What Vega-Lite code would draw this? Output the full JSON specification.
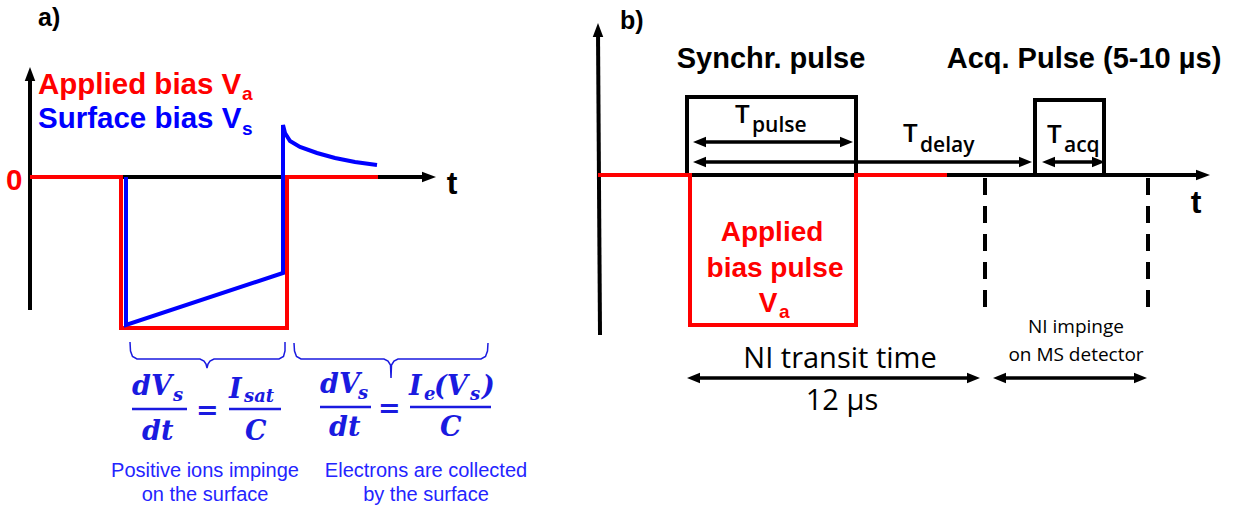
{
  "$schema": "https://vega.github.io/schema/vega-lite/v6.json",
  "width": 1240,
  "height": 510,
  "autosize": {"type": "fit", "contains": "padding"},
  "padding": 0,
  "background": "white",
  "config": {"view": {"stroke": null}},
  "datasets": {
    "lines": [
      {"id": "a_vaxis", "kind": "solid", "series": "axis", "o": 1, "x": 30, "y": 310},
      {"id": "a_vaxis", "kind": "solid", "series": "axis", "o": 2, "x": 30, "y": 75},
      {"id": "a_haxis", "kind": "solid", "series": "axis", "o": 1, "x": 30, "y": 177},
      {"id": "a_haxis", "kind": "solid", "series": "axis", "o": 2, "x": 428, "y": 177},
      {"id": "b_vaxis", "kind": "solid", "series": "axis", "o": 1, "x": 600, "y": 335},
      {"id": "b_vaxis", "kind": "solid", "series": "axis", "o": 2, "x": 598, "y": 32},
      {"id": "b_haxis", "kind": "solid", "series": "axis", "o": 1, "x": 598, "y": 175},
      {"id": "b_haxis", "kind": "solid", "series": "axis", "o": 2, "x": 1200, "y": 175},
      {"id": "b_box1", "kind": "solid", "series": "axis", "o": 1, "x": 687, "y": 175},
      {"id": "b_box1", "kind": "solid", "series": "axis", "o": 2, "x": 687, "y": 97},
      {"id": "b_box1", "kind": "solid", "series": "axis", "o": 3, "x": 856, "y": 97},
      {"id": "b_box1", "kind": "solid", "series": "axis", "o": 4, "x": 856, "y": 175},
      {"id": "b_box2", "kind": "solid", "series": "axis", "o": 1, "x": 1035, "y": 175},
      {"id": "b_box2", "kind": "solid", "series": "axis", "o": 2, "x": 1035, "y": 100},
      {"id": "b_box2", "kind": "solid", "series": "axis", "o": 3, "x": 1104, "y": 100},
      {"id": "b_box2", "kind": "solid", "series": "axis", "o": 4, "x": 1104, "y": 175},
      {"id": "a_red", "kind": "solid", "series": "applied", "o": 1, "x": 30, "y": 177},
      {"id": "a_red", "kind": "solid", "series": "applied", "o": 2, "x": 121, "y": 177},
      {"id": "a_red", "kind": "solid", "series": "applied", "o": 3, "x": 121, "y": 328},
      {"id": "a_red", "kind": "solid", "series": "applied", "o": 4, "x": 287, "y": 328},
      {"id": "a_red", "kind": "solid", "series": "applied", "o": 5, "x": 287, "y": 177},
      {"id": "a_red", "kind": "solid", "series": "applied", "o": 6, "x": 378, "y": 177},
      {"id": "b_red", "kind": "solid", "series": "applied", "o": 1, "x": 598, "y": 175},
      {"id": "b_red", "kind": "solid", "series": "applied", "o": 2, "x": 690, "y": 175},
      {"id": "b_red", "kind": "solid", "series": "applied", "o": 3, "x": 690, "y": 325},
      {"id": "b_red", "kind": "solid", "series": "applied", "o": 4, "x": 856, "y": 325},
      {"id": "b_red", "kind": "solid", "series": "applied", "o": 5, "x": 856, "y": 175},
      {"id": "b_red", "kind": "solid", "series": "applied", "o": 6, "x": 947, "y": 175},
      {"id": "a_blue", "kind": "solid", "series": "surface", "o": 1, "x": 126, "y": 177},
      {"id": "a_blue", "kind": "solid", "series": "surface", "o": 2, "x": 126, "y": 325},
      {"id": "a_blue", "kind": "solid", "series": "surface", "o": 3, "x": 283, "y": 273},
      {"id": "a_blue", "kind": "solid", "series": "surface", "o": 4, "x": 283, "y": 125},
      {"id": "a_blue", "kind": "solid", "series": "surface", "o": 5, "x": 285, "y": 133},
      {"id": "a_blue", "kind": "solid", "series": "surface", "o": 6, "x": 290, "y": 141},
      {"id": "a_blue", "kind": "solid", "series": "surface", "o": 7, "x": 300, "y": 147},
      {"id": "a_blue", "kind": "solid", "series": "surface", "o": 8, "x": 317, "y": 153},
      {"id": "a_blue", "kind": "solid", "series": "surface", "o": 9, "x": 335, "y": 158},
      {"id": "a_blue", "kind": "solid", "series": "surface", "o": 10, "x": 355, "y": 162},
      {"id": "a_blue", "kind": "solid", "series": "surface", "o": 11, "x": 377, "y": 165},
      {"id": "d1", "kind": "dash", "series": "axis", "o": 1, "x": 985, "y": 178},
      {"id": "d1", "kind": "dash", "series": "axis", "o": 2, "x": 985, "y": 313},
      {"id": "d2", "kind": "dash", "series": "axis", "o": 1, "x": 1148, "y": 178},
      {"id": "d2", "kind": "dash", "series": "axis", "o": 2, "x": 1148, "y": 313},
      {"id": "ar1", "kind": "arrow", "series": "axis", "o": 1, "x": 700, "y": 142},
      {"id": "ar1", "kind": "arrow", "series": "axis", "o": 2, "x": 846, "y": 142},
      {"id": "ar2", "kind": "arrow", "series": "axis", "o": 1, "x": 700, "y": 162},
      {"id": "ar2", "kind": "arrow", "series": "axis", "o": 2, "x": 1025, "y": 162},
      {"id": "ar3", "kind": "arrow", "series": "axis", "o": 1, "x": 1049, "y": 162},
      {"id": "ar3", "kind": "arrow", "series": "axis", "o": 2, "x": 1098, "y": 162},
      {"id": "ar4", "kind": "arrow", "series": "axis", "o": 1, "x": 697, "y": 378},
      {"id": "ar4", "kind": "arrow", "series": "axis", "o": 2, "x": 970, "y": 378},
      {"id": "ar5", "kind": "arrow", "series": "axis", "o": 1, "x": 1003, "y": 378},
      {"id": "ar5", "kind": "arrow", "series": "axis", "o": 2, "x": 1137, "y": 378},
      {"id": "br1", "kind": "brace", "series": "eq", "o": 1, "x": 130, "y": 342},
      {"id": "br1", "kind": "brace", "series": "eq", "o": 2, "x": 130.5, "y": 351},
      {"id": "br1", "kind": "brace", "series": "eq", "o": 3, "x": 132.5, "y": 356.5},
      {"id": "br1", "kind": "brace", "series": "eq", "o": 4, "x": 137, "y": 359},
      {"id": "br1", "kind": "brace", "series": "eq", "o": 5, "x": 200, "y": 359},
      {"id": "br1", "kind": "brace", "series": "eq", "o": 6, "x": 204, "y": 361},
      {"id": "br1", "kind": "brace", "series": "eq", "o": 7, "x": 206, "y": 364},
      {"id": "br1", "kind": "brace", "series": "eq", "o": 8, "x": 207, "y": 368},
      {"id": "br1", "kind": "brace", "series": "eq", "o": 9, "x": 208, "y": 364},
      {"id": "br1", "kind": "brace", "series": "eq", "o": 10, "x": 210, "y": 361},
      {"id": "br1", "kind": "brace", "series": "eq", "o": 11, "x": 214, "y": 359},
      {"id": "br1", "kind": "brace", "series": "eq", "o": 12, "x": 279, "y": 359},
      {"id": "br1", "kind": "brace", "series": "eq", "o": 13, "x": 283.5, "y": 356.5},
      {"id": "br1", "kind": "brace", "series": "eq", "o": 14, "x": 285, "y": 351},
      {"id": "br1", "kind": "brace", "series": "eq", "o": 15, "x": 285, "y": 342},
      {"id": "br2", "kind": "brace", "series": "eq", "o": 1, "x": 294, "y": 343},
      {"id": "br2", "kind": "brace", "series": "eq", "o": 2, "x": 294.5, "y": 351},
      {"id": "br2", "kind": "brace", "series": "eq", "o": 3, "x": 296.5, "y": 356.5},
      {"id": "br2", "kind": "brace", "series": "eq", "o": 4, "x": 301, "y": 359},
      {"id": "br2", "kind": "brace", "series": "eq", "o": 5, "x": 384, "y": 359},
      {"id": "br2", "kind": "brace", "series": "eq", "o": 6, "x": 388, "y": 361},
      {"id": "br2", "kind": "brace", "series": "eq", "o": 7, "x": 390.5, "y": 365},
      {"id": "br2", "kind": "brace", "series": "eq", "o": 8, "x": 391, "y": 378},
      {"id": "br2", "kind": "brace", "series": "eq", "o": 9, "x": 391.5, "y": 365},
      {"id": "br2", "kind": "brace", "series": "eq", "o": 10, "x": 394, "y": 361},
      {"id": "br2", "kind": "brace", "series": "eq", "o": 11, "x": 398, "y": 359},
      {"id": "br2", "kind": "brace", "series": "eq", "o": 12, "x": 481, "y": 359},
      {"id": "br2", "kind": "brace", "series": "eq", "o": 13, "x": 485.5, "y": 356.5},
      {"id": "br2", "kind": "brace", "series": "eq", "o": 14, "x": 487.5, "y": 351},
      {"id": "br2", "kind": "brace", "series": "eq", "o": 15, "x": 488, "y": 343},
      {"id": "fb1", "kind": "bar", "series": "eq", "o": 1, "x": 132, "y": 409},
      {"id": "fb1", "kind": "bar", "series": "eq", "o": 2, "x": 187, "y": 409},
      {"id": "fb2", "kind": "bar", "series": "eq", "o": 1, "x": 229, "y": 409},
      {"id": "fb2", "kind": "bar", "series": "eq", "o": 2, "x": 281, "y": 409},
      {"id": "fb3", "kind": "bar", "series": "eq", "o": 1, "x": 320, "y": 407},
      {"id": "fb3", "kind": "bar", "series": "eq", "o": 2, "x": 371, "y": 407},
      {"id": "fb4", "kind": "bar", "series": "eq", "o": 1, "x": 410, "y": 407},
      {"id": "fb4", "kind": "bar", "series": "eq", "o": 2, "x": 491, "y": 407}
    ],
    "heads": [
      {"kind": "axis", "dir": "up", "series": "axis", "x": 30, "y": 67},
      {"kind": "axis", "dir": "up", "series": "axis", "x": 598, "y": 23},
      {"kind": "axis", "dir": "right", "series": "axis", "x": 436, "y": 177},
      {"kind": "axis", "dir": "right", "series": "axis", "x": 1210, "y": 175},
      {"kind": "dim", "dir": "right", "series": "axis", "x": 853, "y": 142},
      {"kind": "dim", "dir": "right", "series": "axis", "x": 1032, "y": 162},
      {"kind": "dim", "dir": "right", "series": "axis", "x": 1105, "y": 162},
      {"kind": "dim", "dir": "right", "series": "axis", "x": 980, "y": 378},
      {"kind": "dim", "dir": "right", "series": "axis", "x": 1147, "y": 378},
      {"kind": "dim", "dir": "left", "series": "axis", "x": 693, "y": 142},
      {"kind": "dim", "dir": "left", "series": "axis", "x": 693, "y": 162},
      {"kind": "dim", "dir": "left", "series": "axis", "x": 1042, "y": 162},
      {"kind": "dim", "dir": "left", "series": "axis", "x": 687, "y": 378},
      {"kind": "dim", "dir": "left", "series": "axis", "x": 993, "y": 378}
    ],
    "texts": [
      {"role": "panel", "series": "axis", "x": 38, "y": 26, "label": "a)"},
      {"role": "panel", "series": "axis", "x": 620, "y": 29, "label": "b)"},
      {"role": "taxis", "series": "axis", "x": 452, "y": 194, "label": "t"},
      {"role": "taxis", "series": "axis", "x": 1196, "y": 213, "label": "t"},
      {"role": "legend", "series": "applied", "x": 6, "y": 190, "label": "0"},
      {"role": "legend", "series": "applied", "x": 38, "y": 94, "label": "Applied bias V"},
      {"role": "legend", "series": "surface", "x": 38, "y": 128, "label": "Surface bias V"},
      {"role": "legendsub", "series": "applied", "x": 242, "y": 100, "label": "a"},
      {"role": "legendsub", "series": "surface", "x": 242, "y": 135, "label": "s"},
      {"role": "legendsub", "series": "applied", "x": 779, "y": 318, "label": "a"},
      {"role": "header", "series": "axis", "x": 771, "y": 68, "label": "Synchr. pulse"},
      {"role": "header", "series": "axis", "x": 1084, "y": 68, "label": "Acq. Pulse (5-10 µs)"},
      {"role": "pulse", "series": "applied", "x": 772, "y": 241, "label": "Applied"},
      {"role": "pulse", "series": "applied", "x": 775, "y": 277, "label": "bias pulse"},
      {"role": "pulse", "series": "applied", "x": 768, "y": 312, "label": "V"},
      {"role": "eq", "series": "eq", "x": 132, "y": 395, "label": "dV"},
      {"role": "eq", "series": "eq", "x": 142, "y": 440, "label": "dt"},
      {"role": "eq", "series": "eq", "x": 196, "y": 419, "label": "="},
      {"role": "eq", "series": "eq", "x": 229, "y": 398, "label": "I"},
      {"role": "eq", "series": "eq", "x": 245, "y": 440, "label": "C"},
      {"role": "eq", "series": "eq", "x": 320, "y": 393, "label": "dV"},
      {"role": "eq", "series": "eq", "x": 329, "y": 436, "label": "dt"},
      {"role": "eq", "series": "eq", "x": 378, "y": 417, "label": "="},
      {"role": "eq", "series": "eq", "x": 409, "y": 395, "label": "I"},
      {"role": "eq", "series": "eq", "x": 434, "y": 395, "label": "(V"},
      {"role": "eq", "series": "eq", "x": 482, "y": 395, "label": ")"},
      {"role": "eq", "series": "eq", "x": 440, "y": 436, "label": "C"},
      {"role": "eqsub", "series": "eq", "x": 173, "y": 401, "label": "s"},
      {"role": "eqsub", "series": "eq", "x": 244, "y": 402, "label": "sat"},
      {"role": "eqsub", "series": "eq", "x": 358, "y": 399, "label": "s"},
      {"role": "eqsub", "series": "eq", "x": 424, "y": 400, "label": "e"},
      {"role": "eqsub", "series": "eq", "x": 470, "y": 400, "label": "s"},
      {"role": "caption", "series": "note", "x": 205, "y": 477, "label": "Positive ions impinge"},
      {"role": "caption", "series": "note", "x": 205, "y": 501, "label": "on the surface"},
      {"role": "caption", "series": "note", "x": 426, "y": 477, "label": "Electrons are collected"},
      {"role": "caption", "series": "note", "x": 426, "y": 501, "label": "by the surface"},
      {"role": "T", "series": "axis", "x": 735, "y": 123, "label": "T"},
      {"role": "T", "series": "axis", "x": 903, "y": 142, "label": "T"},
      {"role": "T", "series": "axis", "x": 1047, "y": 143, "label": "T"},
      {"role": "Tsub", "series": "axis", "x": 752, "y": 132, "label": "pulse"},
      {"role": "Tsub", "series": "axis", "x": 920, "y": 152, "label": "delay"},
      {"role": "Tsub", "series": "axis", "x": 1064, "y": 152, "label": "acq"},
      {"role": "transit", "series": "axis", "x": 840, "y": 368, "label": "NI transit time"},
      {"role": "transit", "series": "axis", "x": 842, "y": 410, "label": "12 µs"},
      {"role": "impinge", "series": "axis", "x": 1076, "y": 333, "label": "NI impinge"},
      {"role": "impinge", "series": "axis", "x": 1076, "y": 361, "label": "on MS detector"}
    ]
  },
  "encoding": {
    "x": {"field": "x", "type": "quantitative", "scale": {"domain": [0, 1240], "nice": false, "zero": false}, "axis": null},
    "y": {"field": "y", "type": "quantitative", "scale": {"domain": [0, 510], "reverse": true, "nice": false, "zero": false}, "axis": null},
    "color": {"field": "series", "type": "nominal", "scale": {"domain": ["axis", "applied", "surface", "eq", "note"], "range": ["#000000", "#ff0000", "#0000ff", "#1a1ae0", "#2424ff"]}, "legend": null}
  },
  "layer": [
    {"data": {"name": "lines"}, "transform": [{"filter": "datum.kind == 'solid' && datum.series == 'axis'"}], "mark": {"type": "line", "strokeWidth": 4, "strokeJoin": "miter", "strokeCap": "butt"}, "encoding": {"detail": {"field": "id"}, "order": {"field": "o", "type": "quantitative"}}},
    {"data": {"name": "lines"}, "transform": [{"filter": "datum.kind == 'solid' && datum.series == 'applied'"}], "mark": {"type": "line", "strokeWidth": 4, "strokeJoin": "miter", "strokeCap": "butt"}, "encoding": {"detail": {"field": "id"}, "order": {"field": "o", "type": "quantitative"}}},
    {"data": {"name": "lines"}, "transform": [{"filter": "datum.kind == 'solid' && datum.series == 'surface'"}], "mark": {"type": "line", "strokeWidth": 4, "strokeJoin": "miter", "strokeCap": "butt"}, "encoding": {"detail": {"field": "id"}, "order": {"field": "o", "type": "quantitative"}}},
    {"data": {"name": "lines"}, "transform": [{"filter": "datum.kind == 'dash'"}], "mark": {"type": "line", "strokeWidth": 4, "strokeDash": [17, 11], "strokeCap": "butt"}, "encoding": {"detail": {"field": "id"}, "order": {"field": "o", "type": "quantitative"}}},
    {"data": {"name": "lines"}, "transform": [{"filter": "datum.kind == 'arrow'"}], "mark": {"type": "line", "strokeWidth": 3.5, "strokeCap": "butt"}, "encoding": {"detail": {"field": "id"}, "order": {"field": "o", "type": "quantitative"}}},
    {"data": {"name": "lines"}, "transform": [{"filter": "datum.kind == 'brace'"}], "mark": {"type": "line", "strokeWidth": 1.5}, "encoding": {"detail": {"field": "id"}, "order": {"field": "o", "type": "quantitative"}}},
    {"data": {"name": "lines"}, "transform": [{"filter": "datum.kind == 'bar'"}], "mark": {"type": "line", "strokeWidth": 2.5, "strokeCap": "butt"}, "encoding": {"detail": {"field": "id"}, "order": {"field": "o", "type": "quantitative"}}},
    {"data": {"name": "heads"}, "transform": [{"filter": "datum.kind == 'axis' && datum.dir == 'up'"}], "mark": {"type": "point", "filled": true, "opacity": 1, "shape": "M0,0L-0.75,2L0.75,2Z", "size": 196, "strokeWidth": 0}},
    {"data": {"name": "heads"}, "transform": [{"filter": "datum.kind == 'axis' && datum.dir == 'right'"}], "mark": {"type": "point", "filled": true, "opacity": 1, "shape": "M0,0L-2,-0.75L-2,0.75Z", "size": 196, "strokeWidth": 0}},
    {"data": {"name": "heads"}, "transform": [{"filter": "datum.kind == 'dim' && datum.dir == 'right'"}], "mark": {"type": "point", "filled": true, "opacity": 1, "shape": "M0,0L-2,-0.8L-2,0.8Z", "size": 169, "strokeWidth": 0}},
    {"data": {"name": "heads"}, "transform": [{"filter": "datum.kind == 'dim' && datum.dir == 'left'"}], "mark": {"type": "point", "filled": true, "opacity": 1, "shape": "M0,0L2,-0.8L2,0.8Z", "size": 169, "strokeWidth": 0}},
    {"data": {"name": "texts"}, "transform": [{"filter": "datum.role == 'panel'"}], "mark": {"type": "text", "font": "Liberation Sans", "fontWeight": "bold", "fontSize": 25, "align": "left", "baseline": "alphabetic"}, "encoding": {"text": {"field": "label"}}},
    {"data": {"name": "texts"}, "transform": [{"filter": "datum.role == 'taxis'"}], "mark": {"type": "text", "font": "Liberation Sans", "fontWeight": "bold", "fontSize": 32, "align": "center", "baseline": "alphabetic"}, "encoding": {"text": {"field": "label"}}},
    {"data": {"name": "texts"}, "transform": [{"filter": "datum.role == 'legend'"}], "mark": {"type": "text", "font": "Liberation Sans", "fontWeight": "bold", "fontSize": 29.5, "align": "left", "baseline": "alphabetic"}, "encoding": {"text": {"field": "label"}}},
    {"data": {"name": "texts"}, "transform": [{"filter": "datum.role == 'legendsub'"}], "mark": {"type": "text", "font": "Liberation Sans", "fontWeight": "bold", "fontSize": 19, "align": "left", "baseline": "alphabetic"}, "encoding": {"text": {"field": "label"}}},
    {"data": {"name": "texts"}, "transform": [{"filter": "datum.role == 'header'"}], "mark": {"type": "text", "font": "Liberation Sans", "fontWeight": "bold", "fontSize": 29, "align": "center", "baseline": "alphabetic"}, "encoding": {"text": {"field": "label"}}},
    {"data": {"name": "texts"}, "transform": [{"filter": "datum.role == 'pulse'"}], "mark": {"type": "text", "font": "Liberation Sans", "fontWeight": "bold", "fontSize": 28, "align": "center", "baseline": "alphabetic"}, "encoding": {"text": {"field": "label"}}},
    {"data": {"name": "texts"}, "transform": [{"filter": "datum.role == 'eq'"}], "mark": {"type": "text", "font": "DejaVu Serif", "fontWeight": "bold", "fontStyle": "italic", "fontSize": 27, "align": "left", "baseline": "alphabetic"}, "encoding": {"text": {"field": "label"}}},
    {"data": {"name": "texts"}, "transform": [{"filter": "datum.role == 'eqsub'"}], "mark": {"type": "text", "font": "DejaVu Serif", "fontWeight": "bold", "fontStyle": "italic", "fontSize": 18, "align": "left", "baseline": "alphabetic"}, "encoding": {"text": {"field": "label"}}},
    {"data": {"name": "texts"}, "transform": [{"filter": "datum.role == 'caption'"}], "mark": {"type": "text", "font": "Liberation Sans", "fontSize": 20, "align": "center", "baseline": "alphabetic"}, "encoding": {"text": {"field": "label"}}},
    {"data": {"name": "texts"}, "transform": [{"filter": "datum.role == 'T'"}], "mark": {"type": "text", "font": "Open Sans", "fontWeight": 600, "fontSize": 26, "align": "left", "baseline": "alphabetic"}, "encoding": {"text": {"field": "label"}}},
    {"data": {"name": "texts"}, "transform": [{"filter": "datum.role == 'Tsub'"}], "mark": {"type": "text", "font": "Open Sans", "fontWeight": 600, "fontSize": 21, "align": "left", "baseline": "alphabetic"}, "encoding": {"text": {"field": "label"}}},
    {"data": {"name": "texts"}, "transform": [{"filter": "datum.role == 'transit'"}], "mark": {"type": "text", "font": "Open Sans", "fontSize": 29, "align": "center", "baseline": "alphabetic"}, "encoding": {"text": {"field": "label"}}},
    {"data": {"name": "texts"}, "transform": [{"filter": "datum.role == 'impinge'"}], "mark": {"type": "text", "font": "Open Sans", "fontSize": 19, "align": "center", "baseline": "alphabetic"}, "encoding": {"text": {"field": "label"}}}
  ]
}
